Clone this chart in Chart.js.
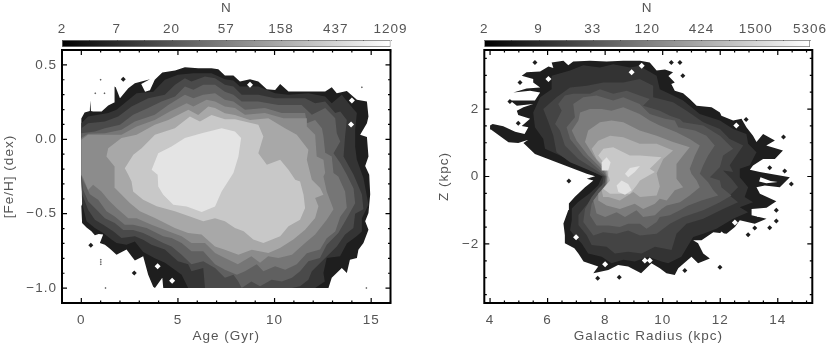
<!DOCTYPE html>
<html>
<head>
<meta charset="utf-8">
<title>Age-[Fe/H] and R-Z density</title>
<script src="https://cdn.jsdelivr.net/npm/chart.js@4"></script>
<style>
  html, body { margin: 0; padding: 0; background: #fff; }
  #page { position: relative; width: 830px; height: 346px; overflow: hidden; }
  canvas { position: absolute; top: 0; }
</style>
</head>
<body>
<div id="page">
  <canvas id="ageChart" width="415" height="346" style="left:0"></canvas>
  <canvas id="ageBar" width="415" height="48" style="left:0"></canvas>
  <canvas id="radiusChart" width="415" height="346" style="left:415px"></canvas>
  <canvas id="radiusBar" width="415" height="48" style="left:415px"></canvas>
</div>
<script>
// Levels of the two density maps, outermost first. Each list is one contour, [x, y] in data units.
const ageBand1 = [[0,.14],[.17,.18],[.44,.19],[.46,.26],[.5,.19],[.61,.187],[1.05,.187],[1.39,.227],[1.7,.247],[1.72,.355],[1.78,.35],[2,.276],[2.43,.343],[2.77,.377],[3.55,.404],[3.1,.372],[3.3,.32],[3.55,.33],[3.8,.4],[4.19,.449],[4.85,.462],[5.36,.484],[6.05,.478],[6.74,.478],[7.09,.471],[7.43,.428],[7.87,.428],[8.21,.388],[8.73,.404],[9.16,.388],[9.6,.337],[10.03,.332],[10.29,.372],[10.72,.321],[12.62,.321],[12.96,.35],[13.22,.31],[13.74,.325],[14.26,.265],[14.78,.254],[14.86,.153],[14.78,.108],[14.43,.03],[14.78,.015],[14.86,-.115],[14.69,-.18],[14.9,-.238],[14.95,-.37],[14.86,-.496],[14.69,-.55],[14.86,-.607],[14.6,-.697],[14.34,-.742],[14.26,-.797],[13.9,-.81],[13.74,-.898],[13.48,-.865],[12.96,-.93],[12.79,-1],[4.24,-1],[4.19,-.93],[3.81,-1],[3.72,-.99],[3.46,-.91],[3.2,-.786],[3.03,-.797],[2.77,-.815],[2.6,-.786],[2.34,-.74],[1.82,-.775],[1.48,-.735],[1.22,-.708],[.96,-.697],[1.13,-.64],[.9,-.636],[.7,-.645],[.52,-.618],[.27,-.592],[.04,-.563],[0,-.45],[.06,-.43],[0,-.238]];
const ageBand2 = [[0,.108],[.35,.153],[1.39,.176],[1.82,.198],[2.34,.254],[2.86,.31],[3.72,.32],[4.32,.4],[5,.433],[5.8,.444],[6.74,.444],[7.43,.404],[7.87,.395],[8.21,.355],[9.16,.355],[10.03,.31],[10.72,.3],[11.75,.31],[12.62,.288],[12.96,.243],[13.48,.299],[13.83,.243],[14.26,.176],[14.17,.064],[14.17,-.048],[14.26,-.138],[14.6,-.26],[14.86,-.44],[14.52,-.53],[14.52,-.62],[14.26,-.65],[13.74,-.7],[13.39,-.786],[12.7,-.797],[12.53,-.898],[12.6,-.955],[12.1,-1],[5.53,-1],[5.19,-.91],[4.33,-.83],[3.8,-.8],[3.2,-.757],[2.77,-.686],[2.34,-.708],[1.82,-.697],[1.56,-.674],[1.13,-.63],[.7,-.596],[.27,-.55],[.04,-.43],[0,-.238]];
const ageBand3 = [[0,.075],[.35,.108],[1.22,.12],[1.91,.153],[2.6,.22],[3.46,.276],[4.32,.3],[4.85,.366],[5.36,.41],[5.7,.388],[6.4,.422],[6.92,.41],[7.43,.366],[7.87,.355],[8.3,.3],[9.16,.3],[10.03,.276],[11.58,.276],[12.1,.243],[12.62,.254],[13.14,.176],[13.4,.187],[13.74,.13],[13.65,.02],[13.57,-.115],[14.09,-.238],[14.52,-.37],[14.6,-.47],[14.17,-.5],[14.08,-.596],[13.65,-.64],[13.22,-.72],[12.79,-.775],[11.93,-.887],[11.75,-.943],[11.32,-.988],[10.9,-1],[6.4,-1],[6.31,-.865],[5.7,-.887],[5.53,-.84],[5,-.82],[4.32,-.74],[3.63,-.708],[3.2,-.675],[2.77,-.652],[2.08,-.663],[1.65,-.618],[1.13,-.574],[.7,-.54],[.35,-.473],[.04,-.37],[0,-.238]];
const ageBand4 = [[0,.04],[.7,.052],[1.22,.075],[2,.097],[2.68,.165],[3.46,.21],[4.15,.254],[4.85,.288],[5.36,.355],[5.8,.333],[6.31,.366],[6.92,.366],[7.43,.32],[7.87,.3],[8.3,.254],[9.16,.254],[10.2,.23],[11.4,.23],[11.93,.165],[12.62,.21],[13.14,.142],[13.22,.04],[13.4,-.015],[13.05,-.094],[13.4,-.16],[13.74,-.238],[14.09,-.33],[14.17,-.43],[13.74,-.53],[13.3,-.63],[12.7,-.708],[12.35,-.797],[11.75,-.82],[11.32,-.887],[10.9,-.93],[10.37,-.955],[9.85,-.943],[9.25,-.988],[8.8,-.955],[8.3,-1],[8.1,-.95],[7.87,-.91],[7.43,-.93],[6.92,-.865],[6.31,-.82],[5.7,-.84],[5.19,-.775],[4.67,-.72],[4.24,-.697],[3.55,-.652],[3.2,-.63],[2.68,-.61],[2.17,-.61],[1.73,-.563],[1.22,-.53],[.79,-.473],[.35,-.417],[.1,-.34],[0,-.238]];
const ageBand5 = [[0,.008],[.35,.037],[1.22,.04],[2.08,.064],[2.77,.12],[3.8,.165],[4.5,.23],[5.36,.3],[5.8,.276],[6.31,.3],[6.92,.31],[7.43,.265],[7.87,.254],[8.47,.198],[9.5,.21],[10.37,.176],[11.58,.176],[11.67,.108],[12.1,.13],[12.45,.075],[12.53,.02],[12.62,-.09],[12.96,-.115],[13.05,-.227],[13.3,-.25],[13.65,-.35],[13.74,-.46],[13.4,-.52],[13.14,-.62],[12.7,-.665],[12.35,-.74],[11.67,-.765],[11.15,-.84],[10.55,-.876],[10.03,-.853],[9.42,-.887],[9.08,-.84],[8.47,-.887],[8.05,-.91],[7.43,-.876],[6.92,-.84],[6.31,-.753],[5.7,-.753],[5.19,-.697],[4.67,-.663],[4.24,-.652],[3.38,-.596],[2.68,-.574],[2.25,-.574],[1.73,-.518],[1.3,-.484],[.87,-.406],[.44,-.37],[.04,-.26],[0,-.238]];
const ageBand6 = [[0,-.003],[.35,.03],[1.13,.03],[2.08,.03],[2.86,.086],[3.8,.13],[4.58,.187],[5.45,.243],[5.8,.22],[6.48,.265],[6.92,.254],[7.43,.22],[7.95,.21],[8.47,.165],[9.5,.176],[10.46,.142],[11.67,.142],[11.67,.086],[12.1,.03],[12.18,-.115],[12.53,-.138],[12.62,-.227],[12.53,-.25],[12.7,-.35],[13.05,-.47],[12.7,-.54],[12.1,-.64],[11.58,-.697],[10.9,-.775],[10.2,-.797],[9.67,-.786],[9.25,-.83],[8.8,-.786],[8.1,-.84],[7.43,-.797],[6.92,-.764],[6.4,-.697],[5.7,-.697],[5.19,-.652],[4.5,-.618],[3.63,-.574],[2.86,-.53],[2.43,-.53],[1.82,-.462],[1.39,-.406],[1.04,-.35],[.61,-.305],[.35,-.34],[.1,-.26],[0,-.238]];
const ageBand7 = [[1.39,-.06],[2.08,.008],[2.86,.03],[3.8,.097],[4.5,.13],[5.54,.198],[6.05,.164],[6.57,.22],[6.92,.21],[7.43,.175],[7.95,.164],[8.73,.13],[9.68,.142],[10.54,.075],[11.15,.03],[11.75,-.07],[11.67,-.138],[11.93,-.272],[12.36,-.328],[12.53,-.372],[12.1,-.395],[12.27,-.45],[12.1,-.529],[11.58,-.607],[10.97,-.674],[10.28,-.73],[9.68,-.764],[8.82,-.742],[8.13,-.775],[7.43,-.742],[6.92,-.72],[6.22,-.64],[5.53,-.63],[4.84,-.596],[3.81,-.529],[3.03,-.484],[2.51,-.428],[1.74,-.328],[1.74,-.238],[1.7,-.182],[1.3,-.115]];
const ageBand8 = [[2.25,-.194],[2.69,-.104],[3.12,-.06],[3.81,.03],[4.84,.075],[5.62,.153],[6.14,.12],[6.74,.164],[7.43,.135],[7.95,.135],[9.16,.097],[9.42,.019],[9.16,-.093],[9.6,-.171],[10.29,-.138],[10.72,-.205],[11.07,-.272],[11.32,-.283],[11.5,-.372],[11.58,-.462],[11.32,-.54],[10.72,-.585],[10.29,-.652],[9.42,-.697],[8.9,-.674],[8.4,-.618],[7.95,-.596],[7.43,-.551],[6.92,-.53],[6.31,-.551],[5.62,-.518],[4.84,-.484],[3.9,-.45],[3.2,-.406],[2.68,-.35],[2.6,-.283],[2.43,-.238]];
const ageBand9 = [[3.64,-.205],[3.98,-.093],[4.67,-.048],[5.36,.008],[6.23,.041],[7.26,.075],[7.95,.052],[8.27,.008],[8.13,-.115],[7.87,-.227],[7.26,-.35],[6.92,-.451],[6.23,-.489],[5.45,-.451],[4.76,-.44],[4.24,-.372],[3.98,-.317],[3.95,-.238]];
const ageBands = [ageBand1, ageBand2, ageBand3, ageBand4, ageBand5, ageBand6, ageBand7, ageBand8, ageBand9];
const ageHoles = [[8.73,.366],[14,.261],[13.96,.1],[3.95,-.853],[4.7,-.95]];
const ageSpecks = [[2.17,.404],[.49,-.712],[2.74,-.898]];
const ageTinySpecks = [[14.52,.35],[14.75,-1],[1.25,-1],[1,.4],[.72,.31],[1.2,.31],[1.01,-.81],[1.01,-.825],[1.01,-.84]];

const radiusBand1 = [[7.65,.01],[7.36,.08],[6.31,.424],[5.56,.67],[5.16,.996],[5.33,1.09],[4.98,.996],[4.64,1.016],[4.03,1.39],[4,1.51],[4.09,1.56],[4.46,1.49],[4.87,1.33],[5.2,1.26],[5.33,1.46],[5.1,1.5],[5.39,1.71],[4.98,1.82],[4.93,1.95],[5.16,2.05],[5.5,2.15],[4.93,2.1],[4.7,2.25],[5.56,2.25],[5.74,2.49],[5.39,2.54],[4.81,2.49],[5.27,2.61],[5.74,2.64],[5.5,2.79],[5.5,2.89],[5.1,2.99],[5.27,3.09],[5.74,3.11],[6.03,3.26],[6.2,3.22],[6.14,3.38],[6.55,3.43],[6.72,3.3],[6.89,3.41],[7.47,3.43],[8.05,3.41],[8.63,3.43],[9.21,3.43],[9.55,3.38],[9.79,3.14],[10.08,3.17],[10.36,3.09],[10.2,2.98],[10.42,2.79],[10.3,2.74],[10.42,2.54],[10.71,2.47],[10.94,2.3],[11.18,2.1],[11.7,2.05],[11.99,1.9],[12.04,1.8],[12.45,1.66],[12.74,1.71],[12.91,1.46],[13.14,1.21],[13.26,1.02],[13.49,1.26],[13.9,1.07],[13.6,.92],[14.18,.77],[13.9,.52],[13.49,.52],[13.14,.325],[13.03,.2],[13.38,.13],[14.42,-.02],[14.07,-.32],[13.55,-.27],[13.26,-.32],[13.38,-.51],[13.95,-.73],[13.61,-.93],[13.09,-.96],[13.09,-1.15],[13.61,-1.25],[13.2,-1.4],[12.68,-1.3],[12.51,-1.5],[12.22,-1.7],[11.76,-1.65],[11.35,-1.89],[11.06,-1.89],[11.23,-1.98],[11.41,-2.28],[11.64,-2.43],[11.23,-2.57],[11,-2.38],[10.54,-2.72],[10.42,-2.92],[10.13,-2.87],[9.9,-2.72],[9.61,-2.57],[9.25,-2.87],[8.8,-2.67],[8.45,-2.62],[8.11,-2.77],[7.59,-2.87],[7.76,-2.67],[7.25,-2.52],[7.07,-2.28],[6.93,-2.13],[6.6,-1.98],[6.6,-1.74],[6.55,-1.39],[6.72,-.99],[6.74,-.8],[6.95,-.6],[7.3,-.32],[7.59,-.12],[7.36,-.07]];
const radiusBand2 = [[7.9,0],[7.47,.18],[6.43,.62],[5.91,.82],[5.85,1.11],[5.56,1.46],[5.5,1.9],[5.74,2.35],[6.14,2.59],[6.14,2.99],[6.78,3.14],[7.24,3.3],[7.82,3.23],[8.28,3.33],[8.86,3.23],[9.2,3.28],[9.38,3.19],[9.79,2.99],[9.9,2.59],[10.36,2.4],[10.71,2.25],[11.29,1.85],[11.99,1.66],[12.45,1.41],[12.91,1.26],[12.97,.97],[13.26,.72],[13.03,.33],[12.68,.23],[12.68,-.02],[12.97,-.32],[12.85,-.61],[13.14,-.76],[12.68,-.91],[12.97,-1.06],[12.45,-1.25],[11.87,-1.55],[11.41,-1.7],[11.06,-1.79],[10.65,-2.38],[10.19,-2.57],[9.96,-2.52],[9.5,-2.38],[9.03,-2.52],[8.63,-2.47],[8.22,-2.57],[7.88,-2.38],[7.41,-2.28],[7.18,-1.98],[6.95,-1.78],[6.78,-1.59],[6.84,-1.29],[6.84,-.95],[7.07,-.75],[7.47,-.5],[7.76,-.26]];
const radiusBand3 = [[7.95,0],[7.59,.13],[6.78,.42],[6.31,.72],[6.2,1.21],[6.03,1.61],[5.85,2],[6.31,2.35],[6.78,2.64],[7.36,2.69],[7.94,2.79],[8.63,2.79],[9.2,2.89],[9.67,2.69],[9.67,2.35],[10.36,2.2],[10.83,1.95],[11.41,1.61],[11.99,1.41],[12.33,1.11],[12.8,.92],[12.56,.62],[12.33,.33],[12.45,.13],[12.1,.18],[12.39,-.07],[12.62,-.32],[12.33,-.56],[12.62,-.76],[12.1,-.96],[11.41,-1.25],[10.83,-1.4],[10.48,-1.7],[10.31,-2.18],[9.73,-2.08],[9.27,-2.28],[8.8,-2.23],[8.34,-2.28],[8.05,-2.08],[7.53,-2.03],[7.36,-1.74],[7.07,-1.44],[7.07,-1.14],[7.3,-.9],[7.59,-.6],[7.88,-.31]];
const radiusBand4 = [[8,0],[7.7,.18],[7.07,.52],[6.6,.92],[6.43,1.36],[6.26,1.56],[6.49,1.95],[6.37,2.15],[6.6,2.4],[6.89,2.45],[7.47,2.45],[7.82,2.59],[8.28,2.45],[8.75,2.54],[9.2,2.4],[9.55,2.3],[9.32,2.1],[9.9,1.95],[10.25,1.8],[10.6,1.7],[10.71,1.61],[11.41,1.51],[11.99,1.21],[12.45,.82],[12.1,.62],[11.99,.28],[11.64,-.02],[11.99,-.12],[12.04,-.32],[12.39,-.56],[11.99,-.76],[11.41,-1],[10.71,-1.2],[10.25,-1.4],[9.79,-1.7],[9.21,-1.75],[8.8,-1.6],[8.4,-1.7],[7.93,-1.65],[7.59,-1.75],[7.24,-1.35],[7.3,-.96],[7.53,-.61],[7.76,-.36],[7.99,-.17]];
const radiusBand5 = [[8.03,0],[7.82,.18],[7.24,.62],[6.78,1.11],[6.66,1.46],[6.95,1.76],[6.89,2.15],[7.24,2.35],[7.7,2.4],[8.28,2.25],[8.63,2.35],[9.2,2.15],[9.55,1.85],[10.08,1.71],[10.42,1.66],[10.54,1.46],[11.12,1.36],[11.52,1.21],[11.81,.92],[11.58,.62],[11.41,.33],[11.29,.08],[11.58,-.17],[11.76,-.41],[11.93,-.56],[11.35,-.71],[10.89,-.86],[10.6,-1],[10.25,-1.15],[9.9,-1.2],[9.79,-1.35],[9.44,-1.55],[9.21,-1.4],[8.8,-1.4],[8.51,-1.5],[8.11,-1.45],[7.7,-1.45],[7.47,-1.15],[7.53,-.81],[7.76,-.51],[7.99,-.27]];
const radiusBand6 = [[8.05,0],[7.94,.18],[7.41,.62],[7.01,1.06],[6.84,1.36],[7.07,1.66],[7.13,1.9],[7.47,2],[7.88,2],[8.22,1.95],[8.63,2.05],[9.2,1.85],[9.55,1.66],[9.9,1.51],[10.48,1.31],[10.94,1.11],[11.29,.92],[11.12,.62],[10.94,.23],[11,.08],[11.18,-.12],[11.29,-.32],[10.94,-.56],[10.6,-.76],[10.14,-.86],[9.96,-.96],[9.73,-1.15],[9.32,-1.2],[9.09,-1],[8.69,-1.2],[8.4,-1.06],[8,-1.2],[7.7,-1.1],[7.59,-.71],[7.82,-.46],[8.05,-.22]];
const radiusBand7 = [[8.07,0],[8,.18],[7.59,.62],[7.3,1.02],[7.41,1.36],[7.82,1.61],[8.22,1.66],[8.63,1.61],[9.2,1.36],[9.79,1.21],[10.36,1.02],[10.94,.87],[10.71,.62],[10.48,.37],[10.48,-.07],[10.71,-.32],[10.42,-.41],[10.14,-.71],[9.9,-.66],[9.73,-.81],[9.32,-.96],[9.03,-.81],[8.51,-.96],[8.05,-.86],[7.76,-.71],[7.76,-.51],[8.05,-.27]];
const radiusBand8 = [[8.1,0],[8.05,.23],[7.7,.52],[7.53,.82],[7.76,1.06],[8.17,1.21],[8.63,1.16],[9.2,.97],[9.79,.97],[10.36,.77],[10.02,.52],[9.9,.3],[9.79,.1],[9.9,-.3],[9.79,-.56],[9.21,-.61],[8.98,-.46],[8.51,-.71],[8.11,-.61],[7.93,-.61],[7.88,-.41],[8.11,-.17]];
const radiusBand9 = [[8.13,0],[8.11,.23],[7.76,.62],[7.94,.82],[8.28,.87],[8.86,.62],[9.21,.62],[9.96,.57],[9.55,.23],[9.73,.13],[9.21,-.12],[9.09,-.27],[8.86,-.51],[8.51,-.51],[8.17,-.51],[7.93,-.36],[8.17,-.12]];
const radiusBand10a = [[7.88,.18],[7.88,.42],[8.05,.57],[8.19,.42],[8.11,.18]];
const radiusBand10b = [[8.4,-.27],[8.57,-.12],[8.8,-.22],[8.92,-.41],[8.69,-.54],[8.46,-.46]];
const radiusBand10c = [[8.69,.08],[8.86,.25],[9.21,.31],[9.03,.13],[8.8,-.02]];
const radiusGapA = [[13.4,-.02],[13.75,-.13],[14,-.16],[13.6,-.2],[13.35,-.15]];
const radiusGapB = [[13.15,-1.02],[13.45,-1.05],[13.6,-1.12],[13.3,-1.2]];
const radiusBands = [radiusBand1, radiusBand2, radiusBand3, radiusBand4, radiusBand5, radiusBand6, radiusBand7, radiusBand8, radiusBand9, radiusBand10a, radiusBand10b, radiusBand10c];
const radiusGaps = [radiusGapA, radiusGapB];
const radiusHoles = [[6.03,2.89],[8.92,3.09],[9.27,3.28],[10.95,2.45],[12.56,1.51],[13.49,.37],[12.51,-1.36],[12.05,-1.72],[6.99,-1.8],[8,-2.6],[9.38,-2.49],[9.55,-2.49]];
const radiusSpecks = [[5.56,3.38],[10.3,3.38],[10.6,3.38],[10.7,2.99],[14.2,1.17],[12.9,1.69],[13.95,-1],[13.95,-1.32],[13.72,-1.52],[13.2,-1.53],[12.97,-1.73],[14.47,-.22],[14.24,.16],[13.72,.26],[6.74,-.13],[7.74,-3.02],[8.49,-2.99],[10.77,-2.79],[11.99,-2.69],[4.69,2.22],[5.04,2.79],[4.98,1.58]];

const ageGrays = ["#1e1e1e", "#343434", "#4a4a4a", "#606060", "#767676", "#8c8c8c", "#a8a8a8", "#c8c8c8", "#e4e4e4"];
const radiusGrays = ["#1e1e1e", "#333333", "#444444", "#545454", "#666666", "#7c7c7c", "#969696", "#aeaeae", "#c8c8c8", "#e2e2e2", "#e2e2e2", "#e2e2e2"];

const ageBarLabels = ["2", "7", "20", "57", "158", "437", "1209"];
const radiusBarLabels = ["2", "9", "33", "120", "424", "1500", "5306"];

const ageXTicks = [0, 5, 10, 15];
const ageYTicks = [-1, -0.5, 0, 0.5];
const radiusXTicks = [4, 6, 8, 10, 12, 14];
const radiusYTicks = [-2, 0, 2];

const FONT = { family: "'Liberation Sans', Arial, sans-serif", size: 13.5, weight: "normal" };
const TEXT = "#555555";
const minus = (s) => s.replace("-", "\u2212");

// Wider text, the reference uses a thin wide vector font
const wideText = {
  id: "wideText",
  beforeUpdate(chart) { chart.ctx.letterSpacing = "1px"; },
};

// IDL-style frame: thick box, inward ticks on all four sides
const frameTicks = {
  id: "frameTicks",
  afterDraw(chart, _args, opts) {
    const { ctx, chartArea: a, scales: { x, y } } = chart;
    ctx.save();
    ctx.strokeStyle = "#000";
    ctx.lineWidth = 1.2;
    const mark = (v, major, horizontal) => {
      const len = major ? 5 : 2.5;
      ctx.beginPath();
      if (horizontal) {
        const p = x.getPixelForValue(v);
        ctx.moveTo(p, a.top); ctx.lineTo(p, a.top + len);
        ctx.moveTo(p, a.bottom); ctx.lineTo(p, a.bottom - len);
      } else {
        const p = y.getPixelForValue(v);
        ctx.moveTo(a.left, p); ctx.lineTo(a.left + len, p);
        ctx.moveTo(a.right, p); ctx.lineTo(a.right - len, p);
      }
      ctx.stroke();
    };
    const each = (scale, step, horizontal, majors) => {
      const n = Math.ceil(scale.min / step);
      for (let i = n; i * step <= scale.max + 1e-9; i++) {
        const v = +(i * step).toFixed(4);
        mark(v, majors.includes(v), horizontal);
      }
    };
    each(x, opts.xStep, true, opts.xTicks);
    each(y, opts.yStep, false, opts.yTicks);
    ctx.lineWidth = 2;
    ctx.strokeRect(a.left, a.top, a.right - a.left, a.bottom - a.top);
    ctx.restore();
  },
};

// tiny ticks along the colour bar, two per labelled interval
const barTicks = {
  id: "barTicks",
  afterDraw(chart) {
    const { ctx, chartArea: a, scales: { x } } = chart;
    ctx.save();
    ctx.strokeStyle = "rgba(40,40,40,0.45)";
    ctx.lineWidth = 1;
    for (let v = 0; v <= x.max; v += 0.5) {
      const p = Math.round(x.getPixelForValue(v)) + 0.5;
      ctx.beginPath();
      ctx.moveTo(p, a.top); ctx.lineTo(p, a.top + 1);
      ctx.stroke();
    }
    ctx.restore();
  },
};

function bandDataset(points, color, i) {
  return {
    data: points,
    showLine: true,
    fill: "shape",
    backgroundColor: color,
    borderColor: color,
    borderWidth: 0,
    pointRadius: 0,
    tension: 0,
    order: -i,
  };
}

function speckDataset(points, color, radius, i) {
  return {
    data: points,
    showLine: false,
    pointStyle: "rectRot",
    pointRadius: radius,
    pointBackgroundColor: color,
    pointBorderWidth: 0,
    order: -i,
  };
}

function panel(id, cfg) {
  const datasets = cfg.bands.map((b, i) => bandDataset(b, cfg.grays[i], i));
  let n = datasets.length;
  (cfg.gaps || []).forEach((g) => datasets.push(bandDataset(g, "#fff", n++)));
  datasets.push(speckDataset(cfg.holes, "#fff", 3, n++));
  datasets.push(speckDataset(cfg.specks, "#1e1e1e", 2.5, n++));
  if (cfg.tiny) datasets.push(speckDataset(cfg.tiny, "#555", 1, n++));

  const tickFix = (vals) => (s) => { s.ticks = vals.map((v) => ({ value: v })); };
  return new Chart(document.getElementById(id), {
    type: "scatter",
    data: { datasets },
    plugins: [wideText, frameTicks],
    options: {
      responsive: false,
      animation: false,
      events: [],
      layout: { padding: { left: cfg.titleShift, top: 50, right: cfg.rightPad, bottom: 0 } },
      plugins: {
        legend: { display: false },
        tooltip: { enabled: false },
        frameTicks: { xStep: cfg.xStep, yStep: cfg.yStep, xTicks: cfg.xTicks, yTicks: cfg.yTicks },
      },
      scales: {
        x: {
          type: "linear", min: cfg.xRange[0], max: cfg.xRange[1],
          afterBuildTicks: tickFix(cfg.xTicks),
          afterFit: (s) => { s.height = 43; },
          grid: { display: false, drawTicks: false }, border: { display: false },
          ticks: { color: TEXT, font: FONT, padding: 9, maxRotation: 0, callback: (v) => minus(String(v)) },
          title: { display: true, text: cfg.xTitle, color: TEXT, font: FONT, padding: { top: 1, bottom: 2 } },
        },
        y: {
          type: "linear", min: cfg.yRange[0], max: cfg.yRange[1],
          afterBuildTicks: tickFix(cfg.yTicks),
          afterFit: (s) => { s.width = cfg.leftPad - cfg.titleShift; },
          grid: { display: false, drawTicks: false }, border: { display: false },
          ticks: { color: TEXT, font: FONT, padding: 5, callback: (v) => minus(cfg.yFormat(v)) },
          title: { display: true, text: cfg.yTitle, color: TEXT, font: FONT, padding: { top: 0, bottom: 0 } },
        },
      },
    },
  });
}

function colorBar(id, labels, leftPad, rightPad) {
  const ramp = (ctx) => {
    const a = ctx.chart.chartArea;
    if (!a) return "#888";
    const g = ctx.chart.ctx.createLinearGradient(a.left, 0, a.right, 0);
    g.addColorStop(0, "#000");
    g.addColorStop(1, "#fff");
    return g;
  };
  return new Chart(document.getElementById(id), {
    type: "bar",
    data: {
      labels: ["N"],
      datasets: [{
        data: [[0, labels.length - 1]],
        backgroundColor: ramp,
        borderColor: "#777",
        borderWidth: 1,
        borderSkipped: false,
        barPercentage: 1,
        categoryPercentage: 1,
      }],
    },
    plugins: [wideText, barTicks],
    options: {
      indexAxis: "y",
      responsive: false,
      animation: false,
      events: [],
      layout: { padding: { left: leftPad, right: rightPad, top: 0, bottom: 1 } },
      plugins: { legend: { display: false }, tooltip: { enabled: false } },
      scales: {
        y: { display: false },
        x: {
          type: "linear", position: "top", min: 0, max: labels.length - 1,
          afterFit: (s) => { s.height = 40; },
          grid: { display: false, drawTicks: false }, border: { display: false },
          ticks: { color: TEXT, font: FONT, stepSize: 1, padding: 3, maxRotation: 0, callback: (v) => labels[v] },
          title: { display: true, text: "N", color: TEXT, font: FONT, padding: { top: 0, bottom: 4 } },
        },
      },
    },
  });
}

panel("ageChart", {
  bands: ageBands, grays: ageGrays, holes: ageHoles, specks: ageSpecks, tiny: ageTinySpecks,
  xRange: [-1, 16], yRange: [-1.1, 0.6], xStep: 1, yStep: 0.1,
  xTicks: ageXTicks, yTicks: ageYTicks, leftPad: 62, rightPad: 24.5, titleShift: 1,
  xTitle: "Age (Gyr)", yTitle: "[Fe/H] (dex)", yFormat: (v) => v.toFixed(1),
});
panel("radiusChart", {
  bands: radiusBands, grays: radiusGrays, gaps: radiusGaps, holes: radiusHoles, specks: radiusSpecks,
  xRange: [3.8, 15.2], yRange: [-3.75, 3.75], xStep: 0.5, yStep: 0.5,
  xTicks: radiusXTicks, yTicks: radiusYTicks, leftPad: 69.3, rightPad: 17.7, titleShift: 21,
  xTitle: "Galactic Radius (kpc)", yTitle: "Z (kpc)", yFormat: (v) => String(v),
});
colorBar("ageBar", ageBarLabels, 62, 24.5);
colorBar("radiusBar", radiusBarLabels, 69.3, 17.7);
</script>
</body>
</html>
